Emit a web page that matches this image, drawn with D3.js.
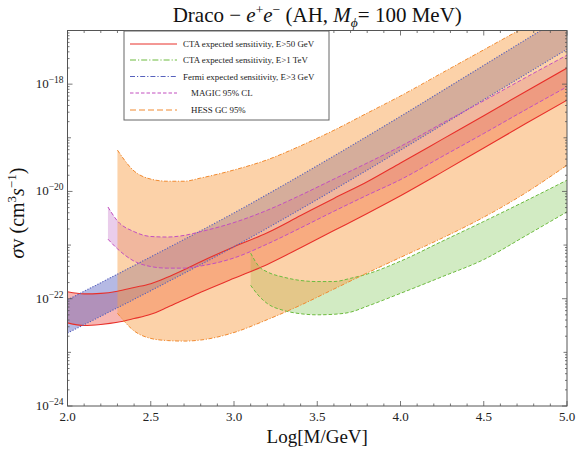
<!DOCTYPE html>
<html>
<head>
<meta charset="utf-8">
<script src="https://cdn.jsdelivr.net/npm/d3@7"></script>
<style>
  html, body { margin: 0; padding: 0; background: #fff; }
  svg { display: block; font-family: "Liberation Serif", "DejaVu Serif", serif; }
</style>
</head>
<body>
<svg id="chart" width="577" height="450"></svg>
<script>
// log10(M/GeV) sample points and log10(<sigma v>) limits for each band

// CTA expected sensitivity, E>50 GeV
const ctaM  = [2.0, 2.1, 2.2, 2.3, 2.4, 2.5, 2.6, 2.7, 2.8, 3.0, 3.2, 3.4, 3.6, 3.8, 4.0, 4.25, 4.5, 4.75, 5.0];
const ctaHi = [-21.87, -21.91, -21.90, -21.86, -21.79, -21.72, -21.60, -21.46, -21.31, -21.03, -20.77, -20.45, -20.13, -19.82, -19.47, -19.03, -18.59, -18.14, -17.70];
const ctaLo = [-22.45, -22.50, -22.48, -22.44, -22.37, -22.29, -22.16, -22.02, -21.88, -21.62, -21.36, -21.05, -20.73, -20.41, -20.08, -19.64, -19.19, -18.74, -18.30];

// CTA expected sensitivity, E>1 TeV
const ctaTeVM  = [3.1, 3.15, 3.2, 3.3, 3.4, 3.5, 3.6, 3.7, 3.8, 4.0, 4.25, 4.5, 4.75, 5.0];
const ctaTeVHi = [-21.15, -21.40, -21.50, -21.60, -21.66, -21.68, -21.68, -21.62, -21.54, -21.30, -20.93, -20.56, -20.18, -19.79];
const ctaTeVLo = [-21.75, -21.95, -22.09, -22.22, -22.28, -22.30, -22.29, -22.25, -22.14, -21.90, -21.59, -21.27, -20.83, -20.38];

// Fermi expected sensitivity, E>3 GeV
const fermiM  = [2.0, 2.5, 3.0, 3.5, 4.0, 4.5, 5.0];
const fermiHi = [-22.02, -21.22, -20.40, -19.52, -18.60, -17.65, -16.70];
const fermiLo = [-22.64, -21.85, -21.03, -20.15, -19.23, -18.29, -17.35];

// MAGIC 95% CL
const magicM  = [2.243, 2.3, 2.4, 2.5, 2.6, 2.7, 2.8, 3.0, 3.2, 3.4, 3.6, 3.8, 4.0, 4.25, 4.5, 4.75, 5.0];
const magicHi = [-20.29, -20.55, -20.75, -20.84, -20.85, -20.82, -20.75, -20.58, -20.35, -20.07, -19.77, -19.47, -19.16, -18.73, -18.31, -17.88, -17.46];
const magicLo = [-20.89, -21.07, -21.30, -21.40, -21.43, -21.43, -21.39, -21.24, -20.98, -20.68, -20.37, -20.07, -19.78, -19.35, -18.92, -18.48, -18.05];

// HESS GC 95%
const hessM  = [2.3, 2.4, 2.5, 2.6, 2.7, 2.8, 3.0, 3.2, 3.4, 3.6, 3.8, 4.0, 4.25, 4.5, 4.75, 5.0];
const hessHi = [-19.23, -19.62, -19.77, -19.81, -19.81, -19.75, -19.60, -19.41, -19.15, -18.86, -18.54, -18.22, -17.79, -17.36, -16.93, -16.50];
const hessLo = [-22.27, -22.60, -22.74, -22.78, -22.79, -22.77, -22.63, -22.39, -22.12, -21.82, -21.52, -21.23, -20.87, -20.48, -20.03, -19.51];

// Axis ticks
const xMajorTicks = [2.0, 2.5, 3.0, 3.5, 4.0, 4.5, 5.0];
const yMajorExponents = [-24, -22, -20, -18];

const legendLabels = [
  "CTA expected sensitivity, E>50 GeV",
  "CTA expected sensitivity, E>1 TeV",
  "Fermi expected sensitivity, E>3 GeV",
  "  MAGIC 95% CL",
  "  HESS GC 95%"
];

// ---------------------------------------------------------------
const svg = d3.select("#chart");
const pLeft = 67.5, pRight = 567, pTop = 30.5, pBottom = 406;

const x = d3.scaleLinear().domain([2, 5]).range([pLeft, pRight]);
const y = d3.scaleLog().domain([1e-24, 1e-17]).range([pBottom, pTop]);

svg.append("defs").append("clipPath").attr("id", "plotClip")
  .append("rect").attr("x", pLeft).attr("y", pTop)
  .attr("width", pRight - pLeft).attr("height", pBottom - pTop);

const plot = svg.append("g").attr("clip-path", "url(#plotClip)");

function bandRows(ms, hi, lo) {
  return ms.map((m, i) => ({ m, hi: Math.pow(10, hi[i]), lo: Math.pow(10, lo[i]) }));
}

// Series in drawing order (later fills sit on top)
const series = [
  { rows: bandRows(ctaM, ctaHi, ctaLo), line: "#e8302a", fill: "#e8342a", op: 0.36,
    dash: null, width: 1.1, legendDash: null },
  { rows: bandRows(ctaTeVM, ctaTeVHi, ctaTeVLo), line: "#6dbb3f", fill: "#74c044", op: 0.32,
    dash: "3.5,2", width: 1, legendDash: "6,2,1.2,2" },
  { rows: bandRows(fermiM, fermiHi, fermiLo), line: "#5661bd", fill: "#5a64c4", op: 0.45,
    dash: "1.2,1.6", width: 1.1, legendDash: "5,2,1.2,2" },
  { rows: bandRows(magicM, magicHi, magicLo), line: "#c24fbf", fill: "#b44cb8", op: 0.28,
    dash: "4,2", width: 1, legendDash: "3.5,2" },
  { rows: bandRows(hessM, hessHi, hessLo), line: "#f08a30", fill: "#f8a048", op: 0.47,
    dash: "4,1.6,1.2,1.6", width: 1, legendDash: "6,3" }
];

const area = d3.area()
  .x(d => x(d.m)).y0(d => y(d.lo)).y1(d => y(d.hi))
  .curve(d3.curveMonotoneX);
const lineHi = d3.line().x(d => x(d.m)).y(d => y(d.hi)).curve(d3.curveMonotoneX);
const lineLo = d3.line().x(d => x(d.m)).y(d => y(d.lo)).curve(d3.curveMonotoneX);

series.forEach(s => {
  plot.append("path").attr("d", area(s.rows))
    .attr("fill", s.fill).attr("fill-opacity", s.op).attr("stroke", "none");
});
series.forEach(s => {
  [lineHi, lineLo].forEach(gen => {
    plot.append("path").attr("d", gen(s.rows))
      .attr("fill", "none").attr("stroke", s.line)
      .attr("stroke-width", s.width)
      .attr("stroke-dasharray", s.dash);
  });
});

// ---------------------------------------------------------------
// Frame and ticks (ticks pointing inward on all four sides)
const frame = svg.append("g");
const frameColor = "#555";
frame.append("rect").attr("x", pLeft).attr("y", pTop)
  .attr("width", pRight - pLeft).attr("height", pBottom - pTop)
  .attr("fill", "none").attr("stroke", frameColor).attr("stroke-width", 1);

const xAll = d3.range(20, 51).map(v => v / 10);
xAll.forEach(v => {
  const major = xMajorTicks.some(t => Math.abs(t - v) < 1e-9);
  const len = major ? 5 : 2.5;
  const px = x(v);
  frame.append("line").attr("x1", px).attr("x2", px).attr("y1", pBottom).attr("y2", pBottom - len)
    .attr("stroke", frameColor).attr("stroke-width", 0.8);
  frame.append("line").attr("x1", px).attr("x2", px).attr("y1", pTop).attr("y2", pTop + len)
    .attr("stroke", frameColor).attr("stroke-width", 0.8);
});

const yTickVals = [];
for (let e = -24; e < -17; e++) {
  for (let k = 1; k <= 9; k++) {
    const major = (k === 1 && yMajorExponents.includes(e));
    const mid = (k === 1 && !major);
    yTickVals.push({ v: k * Math.pow(10, e), len: major ? 5 : (mid ? 3.5 : 2) });
  }
}
yTickVals.push({ v: 1e-17, len: 3.5 });
yTickVals.forEach(t => {
  const py = y(t.v);
  frame.append("line").attr("x1", pLeft).attr("x2", pLeft + t.len).attr("y1", py).attr("y2", py)
    .attr("stroke", frameColor).attr("stroke-width", 0.8);
  frame.append("line").attr("x1", pRight).attr("x2", pRight - t.len).attr("y1", py).attr("y2", py)
    .attr("stroke", frameColor).attr("stroke-width", 0.8);
});

// Tick labels
xMajorTicks.forEach(v => {
  svg.append("text").attr("x", x(v)).attr("y", pBottom + 15)
    .attr("text-anchor", "middle").attr("font-size", 13).attr("fill", "#222")
    .text(v.toFixed(1));
});
yMajorExponents.forEach(e => {
  const t = svg.append("text").attr("x", pLeft - 4).attr("y", y(Math.pow(10, e)) + 4)
    .attr("text-anchor", "end").attr("font-size", 13).attr("fill", "#222");
  t.append("tspan").text("10");
  t.append("tspan").attr("font-size", 9.5).attr("dy", -5).text("\u2212" + Math.abs(e));
});

// Axis titles
svg.append("text").attr("x", (pLeft + pRight) / 2).attr("y", 443)
  .attr("text-anchor", "middle").attr("font-size", 19).attr("fill", "#111")
  .text("Log[M/GeV]");

const yl = svg.append("text")
  .attr("transform", `translate(24,213) rotate(-90)`)
  .attr("text-anchor", "middle").attr("font-size", 20).attr("fill", "#111");
yl.append("tspan").attr("font-style", "italic").text("\u03c3");
yl.append("tspan").text("v (cm");
yl.append("tspan").attr("font-size", 13).attr("dy", -8).text("3");
yl.append("tspan").attr("font-style", "italic").attr("dy", 8).text("s");
yl.append("tspan").attr("font-size", 13).attr("dy", -8).text("\u22121");
yl.append("tspan").attr("dy", 8).text(")");

// Title
const title = svg.append("text").attr("x", (pLeft + pRight) / 2).attr("y", 22)
  .attr("text-anchor", "middle").attr("font-size", 21).attr("fill", "#111");
title.append("tspan").text("Draco \u2212 ");
title.append("tspan").attr("font-style", "italic").text("e");
title.append("tspan").attr("font-size", 13.5).attr("dy", -8).text("+");
title.append("tspan").attr("font-style", "italic").attr("dy", 8).text("e");
title.append("tspan").attr("font-size", 13.5).attr("dy", -8).text("\u2212");
title.append("tspan").attr("dy", 8).text(" (AH, ");
title.append("tspan").attr("font-style", "italic").text("M");
title.append("tspan").attr("font-style", "italic").attr("font-size", 13.5).attr("dy", 5).text("\u03d5");
title.append("tspan").attr("dy", -5).text("= 100 MeV)");

// ---------------------------------------------------------------
// Legend
const lg = svg.append("g");
const lgX = 124, lgY = 31, lgW = 205, lgH = 89;
lg.append("rect").attr("x", lgX).attr("y", lgY).attr("width", lgW).attr("height", lgH)
  .attr("fill", "#fff").attr("stroke", "#666").attr("stroke-width", 1);
const rowY = [44, 60, 76.5, 93, 110];
series.forEach((s, i) => {
  lg.append("line").attr("x1", 130).attr("x2", 177).attr("y1", rowY[i]).attr("y2", rowY[i])
    .attr("stroke", s.line).attr("stroke-width", 1)
    .attr("stroke-dasharray", s.legendDash);
  const indent = legendLabels[i].startsWith("  ") ? 8 : 0;
  lg.append("text").attr("x", 183 + indent).attr("y", rowY[i] + 3)
    .attr("font-size", 8.9).attr("fill", "#222")
    .text(legendLabels[i].trim());
});
</script>
</body>
</html>
